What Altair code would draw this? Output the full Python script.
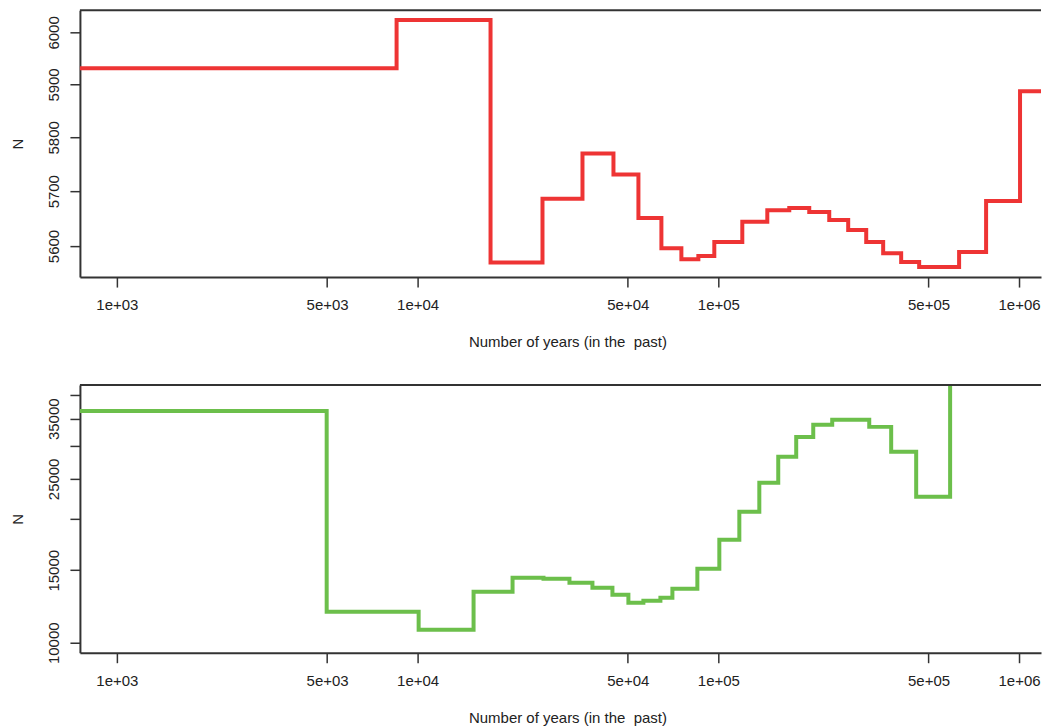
import altair as alt
import pandas as pd

# ---- data ----
red_years = [500, 8514, 17480, 26020, 35340, 44800, 54240, 64670, 75360, 85820,
             96970, 120150, 145500, 172150, 200600, 233800, 270300, 310300,
             353300, 405500, 465400, 538100, 631900, 777000, 1007600, 1500000]
red_n = [5931, 6024, 5570, 5686, 5770, 5731, 5651, 5596, 5576, 5582,
         5607, 5644, 5665, 5669, 5662, 5647, 5629, 5607,
         5587, 5571, 5562, 5562, 5589, 5682, 5887, 5887]

green_years = [500, 4985, 10080, 15350, 20690, 26220, 31990, 38140, 44450, 50230,
               56340, 64180, 70350, 85170, 100770, 117450, 136870, 158220,
               181550, 206850, 239180, 317580, 375650, 454900, 589900, 1500000]
green_n = [36570, 11890, 10755, 13300, 14380, 14300, 13990, 13600, 13080, 12500,
           12650, 12860, 13530, 15120, 17780, 20800, 24450, 28280,
           31620, 33820, 34780, 33440, 29080, 22620, 60000, 60000]

x_tick_vals = [1000, 5000, 10000, 50000, 100000, 500000, 1000000]
x_tick_labels = ["1e+03", "5e+03", "1e+04", "5e+04", "1e+05", "5e+05", "1e+06"]
top_y_ticks = [5600, 5700, 5800, 5900, 6000]
bot_y_ticks = [10000, 15000, 20000, 25000, 30000, 35000, 40000]
bot_y_labels = ["10000", "15000", "", "25000", "", "35000", ""]

x_domain = [753.6, 1183000]
top_y_domain = [5544, 6043]
bot_y_domain = [9456, 42270]

X_TITLE = "Number of years (in the\u00a0 past)"

W = 962
H_TOP = 267
H_BOT = 268
FONT = "Liberation Sans"
AX = "#333333"
FS = 15


def label_expr(vals, labels):
    expr = "''"
    for v, l in reversed(list(zip(vals, labels))):
        expr = f"round(datum.value) == {v} ? '{l}' : " + expr
    return expr


def panel(years, n, color, ydom, yticks, ylabels, height):
    df = pd.DataFrame({"years": years, "N": n})
    x = alt.X("years:Q",
              scale=alt.Scale(type="log", domain=x_domain, nice=False, zero=False),
              axis=alt.Axis(title=X_TITLE,
                            values=x_tick_vals,
                            labelExpr=label_expr(x_tick_vals, x_tick_labels),
                            titleX=488, titleAlign="center", titleAnchor="start",
                            labelPadding=10.5, titlePadding=22))
    y = alt.Y("N:Q",
              scale=alt.Scale(type="log", domain=ydom, nice=False, zero=False),
              axis=alt.Axis(title="N", values=yticks,
                            labelExpr=label_expr(yticks, ylabels),
                            labelAngle=270, labelAlign="center",
                            labelBaseline="bottom",
                            labelPadding=8.5, titlePadding=21))
    line = alt.Chart(df).mark_line(
        interpolate="step-after", clip=True, strokeWidth=4, color=color
    ).encode(x=x, y=y)
    border = alt.Chart(pd.DataFrame({"a": [0]})).mark_rule(
        color=AX, strokeWidth=2
    ).encode(x=alt.value(0), x2=alt.value(W), y=alt.value(0))
    return alt.layer(line, border).properties(width=W, height=height)


top = panel(red_years, red_n, "#EE3434", top_y_domain, top_y_ticks,
            [str(v) for v in top_y_ticks], H_TOP)
bottom = panel(green_years, green_n, "#6CBF4B", bot_y_domain, bot_y_ticks,
               bot_y_labels, H_BOT)

chart = alt.vconcat(top, bottom, spacing=34).properties(
    padding={"left": 10, "top": 9, "right": 0, "bottom": 0},
    background="white",
).configure_view(strokeWidth=0).configure_axis(
    grid=False,
    domainColor=AX, domainWidth=2,
    tickColor=AX, tickWidth=1.5, tickSize=10,
    labelFont=FONT, labelFontSize=FS, labelColor="#222222",
    titleFont=FONT, titleFontSize=FS, titleFontWeight="normal",
    titleColor="#222222",
)

chart.save("out.html", embed_options={"renderer": "svg", "actions": False})
